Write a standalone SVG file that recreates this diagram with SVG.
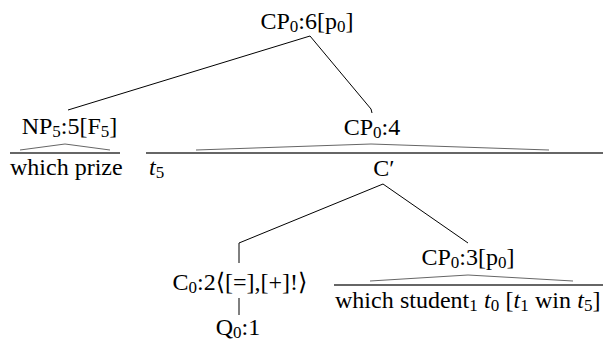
<svg xmlns="http://www.w3.org/2000/svg" width="603" height="341" viewBox="0 0 603 341">
<style>
text{font-family:'Liberation Serif','Times New Roman','DejaVu Serif',serif;font-size:24px;fill:#000}
.s{font-size:17px}
.i{font-style:italic}
.edge{stroke:#000;stroke-width:1;fill:none}
.tri{stroke:#666;stroke-width:1;fill:none}
.base{stroke:#333;stroke-width:1.5;fill:none}
</style>
<rect width="603" height="341" fill="#fff"/>
<g id="connectors">
<line class="edge" x1="310" y1="36" x2="68" y2="110"/>
<polyline class="edge" points="310,36 371,109 372,113"/>
<line class="edge" x1="383" y1="184" x2="239" y2="243"/>
<line class="edge" x1="239" y1="243" x2="239" y2="263"/>
<line class="edge" x1="383" y1="184" x2="468" y2="243"/>
<line class="edge" x1="239" y1="298" x2="239" y2="315"/>
</g>
<g id="cp6"><text x="307" y="29" text-anchor="middle">CP<tspan class="s" dy="3">0</tspan><tspan dy="-3">:6[p</tspan><tspan class="s" dy="3">0</tspan><tspan dy="-3">]</tspan></text></g>
<g id="np5">
<text x="69.5" y="134" text-anchor="middle">NP<tspan class="s" dy="3">5</tspan><tspan dy="-3">:5[F</tspan><tspan class="s" dy="3">5</tspan><tspan dy="-3">]</tspan></text>
<polyline class="tri" points="20,150 65,144 110,150"/>
<line class="base" x1="10" y1="153" x2="120" y2="153"/>
<text x="10" y="175">which prize</text>
</g>
<g id="cp4">
<text x="372" y="135" text-anchor="middle">CP<tspan class="s" dy="3">0</tspan><tspan dy="-3">:4</tspan></text>
<polyline class="tri" points="196,150 371,144 549,150"/>
<line class="base" x1="146" y1="153" x2="603" y2="153"/>
<text x="149" y="175"><tspan class="i">t</tspan><tspan class="s" dy="3">5</tspan></text>
</g>
<g id="cbar"><text x="384" y="176" text-anchor="middle">C′</text></g>
<g id="c0"><text x="240" y="290" text-anchor="middle">C<tspan class="s" dy="3">0</tspan><tspan dy="-3">:2⟨[=],[+]!⟩</tspan></text></g>
<g id="q0"><text x="238" y="335" text-anchor="middle">Q<tspan class="s" dy="3">0</tspan><tspan dy="-3">:1</tspan></text></g>
<g id="cp3">
<text x="468" y="265" text-anchor="middle">CP<tspan class="s" dy="3">0</tspan><tspan dy="-3">:3[p</tspan><tspan class="s" dy="3">0</tspan><tspan dy="-3">]</tspan></text>
<polyline class="tri" points="370,281 468,275 573,281"/>
<line class="base" x1="334" y1="285" x2="603" y2="285"/>
<text x="335" y="308" word-spacing="0.3">which student<tspan class="s" dy="3">1</tspan><tspan dy="-3"> </tspan><tspan class="i">t</tspan><tspan class="s" dy="3">0</tspan><tspan dy="-3"> [</tspan><tspan class="i">t</tspan><tspan class="s" dy="3">1</tspan><tspan dy="-3"> win </tspan><tspan class="i">t</tspan><tspan class="s" dy="3">5</tspan><tspan dy="-3">]</tspan></text>
</g>
</svg>
